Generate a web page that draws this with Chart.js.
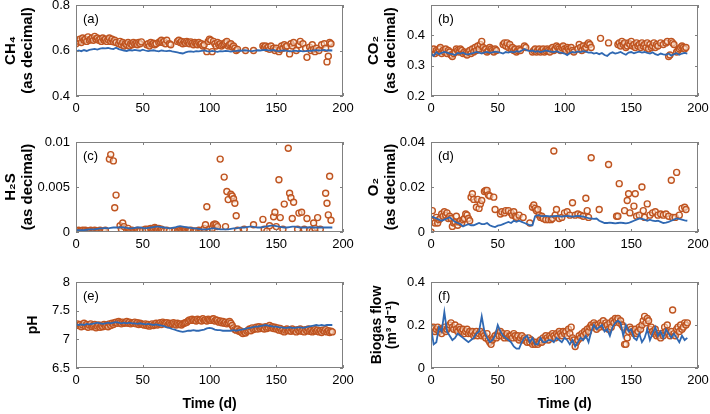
<!DOCTYPE html>
<html>
<head>
<meta charset="utf-8">
<script src="https://cdn.jsdelivr.net/npm/chart.js@4.4.0/dist/chart.umd.min.js"></script>
<style>
html, body { margin: 0; padding: 0; background: #fff; overflow: hidden; }
#wrap { position: relative; width: 710px; height: 414px; overflow: hidden; }
#wrap canvas { position: absolute; }
</style>
</head>
<body>
<div id="wrap"></div>
<script>
'use strict';
//___________TICKS__________________
var xTicks = [0, 50, 100, 150, 200];
var ch4Ticks = [0.4, 0.6, 0.8];
var co2Ticks = [0.2, 0.3, 0.4];
var h2sTicks = [0, 0.005, 0.01];
var o2Ticks = [0, 0.02, 0.04];
var phTicks = [6.5, 7, 7.5, 8];
var flowTicks = [0, 0.2, 0.4];

//___________DAYS__________________
var lineDays = [0,2,4,6,8,10,12,14,16,18,20,22,24,26,28,30,32,34,36,38,40,42,44,46,48,50,52,54,56,58,60,62,64,66,68,70,72,74,76,78,80,82,84,86,88,90,92,94,96,98,100,102,104,106,108,110,112,114,116,118,120,122,124,126,128,130,132,134,136,138,140,142,144,146,148,150,152,154,156,158,160,162,164,166,168,170,172,174,176,178,180,182,184,186,188,190,192];
var dailyDays = [0,1,2,3,4,5,6,7,8,9,10,11,12,13,14,15,16,17,18,19,20,21,22,23,24,25,26,27,28,29,30,31,32,33,34,35,36,37,38,39,40,41,42,43,44,45,46,47,48,49,50,51,52,53,54,55,56,57,58,59,60,61,62,63,64,65,66,67,68,69,70,71,72,73,74,75,76,77,78,79,80,81,82,83,84,85,86,87,88,89,90,91,92,93,94,95,96,97,98,99,100,101,102,103,104,105,106,107,108,109,110,111,112,113,114,115,116,117,118,119,120,121,122,123,124,125,126,127,128,129,130,131,132,133,134,135,136,137,138,139,140,141,142,143,144,145,146,147,148,149,150,151,152,153,154,155,156,157,158,159,160,161,162,163,164,165,166,167,168,169,170,171,172,173,174,175,176,177,178,179,180,181,182,183,184,185,186,187,188,189,190,191,192];

//___________MODEL LINES (every 2 d)__________________
var ch4Model = [0.595,0.600,0.597,0.602,0.598,0.603,
  0.605,0.607,0.604,0.608,0.610,0.609,0.611,0.608,0.606,0.612,
  0.606,0.603,0.600,0.598,0.602,0.600,0.603,0.601,0.599,0.604,
  0.600,0.597,0.599,0.601,0.598,0.596,0.600,0.598,0.597,0.599,
  0.596,0.594,0.592,0.589,0.587,0.592,0.595,0.596,0.594,0.597,
  0.596,0.598,0.600,0.597,0.595,0.598,0.596,0.594,0.597,0.596,
  0.598,0.597,0.595,0.597,0.598,0.600,0.599,0.601,0.600,0.598,
  0.597,0.599,0.601,0.600,0.602,0.603,0.601,0.600,0.602,0.598,
  0.597,0.599,0.600,0.598,0.596,0.597,0.599,0.597,0.598,0.596,
  0.597,0.599,0.598,0.600,0.602,0.600,0.601,0.603,0.600,0.601,
  0.600];
var co2Model = [0.340,0.332,0.345,0.338,0.342,0.345,
  0.343,0.340,0.338,0.335,0.342,0.340,0.343,0.338,0.337,0.340,
  0.342,0.345,0.343,0.340,0.344,0.345,0.342,0.344,0.346,0.345,
  0.343,0.340,0.345,0.343,0.346,0.344,0.348,0.346,0.350,0.355,
  0.350,0.348,0.350,0.346,0.348,0.345,0.347,0.350,0.348,0.346,
  0.345,0.348,0.344,0.342,0.340,0.335,0.342,0.345,0.343,0.347,
  0.345,0.348,0.346,0.343,0.344,0.340,0.342,0.338,0.342,0.335,
  0.332,0.340,0.344,0.340,0.342,0.345,0.340,0.336,0.343,0.345,
  0.341,0.344,0.346,0.343,0.345,0.342,0.340,0.344,0.338,0.335,
  0.340,0.337,0.336,0.340,0.333,0.338,0.341,0.336,0.340,0.342,
  0.340];
var h2sModel = [0.0002,0.0002,0.0002,0.0002,0.00025,0.0003,
  0.0003,0.0003,0.00035,0.0004,0.0004,0.00045,0.0004,0.00045,0.0005,0.0005,
  0.0005,0.00055,0.0005,0.00045,0.0004,0.0004,0.00045,0.0005,0.0005,0.00045,
  0.0004,0.00045,0.0005,0.00055,0.0006,0.0006,0.00055,0.0005,0.00045,0.0004,
  0.00045,0.0005,0.0006,0.00065,0.0006,0.00055,0.0005,0.00045,0.0004,0.0004,
  0.00035,0.0003,0.0003,0.0003,0.00035,0.0004,0.0004,0.00035,0.0003,0.0003,
  0.0003,0.0003,0.00035,0.0004,0.0004,0.00045,0.0005,0.0005,0.00055,0.0006,
  0.0006,0.00055,0.0005,0.0005,0.00055,0.0006,0.00065,0.0007,0.0007,0.00065,
  0.0006,0.00055,0.0005,0.0005,0.00055,0.0006,0.0006,0.00055,0.0005,0.0005,
  0.0005,0.0005,0.00055,0.0005,0.0005,0.0005,0.0005,0.0005,0.0005,0.0005,
  0.0005];
var o2Model = [0.0070,0.0065,0.0060,0.0055,0.0050,0.0055,
  0.0060,0.0065,0.0055,0.0045,0.0040,0.0035,0.0025,0.0030,0.0035,0.0030,
  0.0030,0.0035,0.0040,0.0035,0.0035,0.0040,0.0030,0.0025,0.0022,0.0028,
  0.0030,0.0035,0.0040,0.0045,0.0040,0.0050,0.0045,0.0050,0.0045,0.0040,
  0.0035,0.0030,0.0030,0.0070,0.0075,0.0072,0.0070,0.0072,0.0070,0.0068,
  0.0070,0.0072,0.0070,0.0068,0.0070,0.0072,0.0070,0.0068,0.0070,0.0072,
  0.0070,0.0068,0.0065,0.0062,0.0060,0.0058,0.0060,0.0050,0.0045,0.0040,
  0.0040,0.0042,0.0040,0.0038,0.0040,0.0042,0.0040,0.0038,0.0040,0.0045,
  0.0050,0.0055,0.0060,0.0058,0.0055,0.0050,0.0055,0.0050,0.0048,0.0050,
  0.0045,0.0040,0.0042,0.0045,0.0050,0.0055,0.0060,0.0058,0.0055,0.0052,
  0.0050];
var phModel = [7.26,7.25,7.26,7.25,7.27,7.26,
  7.27,7.28,7.29,7.28,7.27,7.28,7.29,7.28,7.29,7.30,
  7.29,7.28,7.29,7.28,7.29,7.28,7.28,7.27,7.28,7.27,
  7.26,7.27,7.26,7.25,7.26,7.25,7.24,7.23,7.21,7.20,
  7.18,7.17,7.15,7.14,7.13,7.14,7.15,7.15,7.16,7.15,
  7.15,7.16,7.17,7.19,7.20,7.19,7.17,7.16,7.16,7.15,
  7.15,7.15,7.15,7.16,7.15,7.16,7.17,7.18,7.19,7.20,
  7.21,7.22,7.22,7.23,7.24,7.25,7.24,7.23,7.22,7.22,
  7.21,7.21,7.20,7.20,7.21,7.20,7.20,7.21,7.21,7.20,
  7.21,7.22,7.23,7.24,7.25,7.24,7.25,7.24,7.25,7.25,
  7.25];
var flowModel = [0.19,0.11,0.12,0.19,0.17,0.26,
  0.17,0.15,0.13,0.14,0.16,0.15,0.14,0.13,0.12,0.13,
  0.14,0.16,0.17,0.24,0.17,0.14,0.12,0.13,0.15,0.20,
  0.17,0.15,0.14,0.13,0.12,0.10,0.09,0.09,0.12,0.14,
  0.15,0.12,0.14,0.11,0.11,0.14,0.12,0.12,0.13,0.13,
  0.12,0.14,0.13,0.12,0.14,0.13,0.11,0.13,0.10,0.12,
  0.14,0.13,0.15,0.12,0.17,0.20,0.18,0.19,0.20,0.17,
  0.18,0.15,0.19,0.21,0.22,0.21,0.15,0.20,0.17,0.18,
  0.14,0.13,0.16,0.12,0.14,0.18,0.13,0.16,0.19,0.15,
  0.17,0.14,0.18,0.16,0.14,0.16,0.14,0.12,0.15,0.13,
  0.14];

//___________MEASURED POINTS [day, value]__________________
var ch4Measured = [[0,.630],[1,.645],[2,.640],[3,.650],[4,.635],[5,.655],[6,.645],[7,.650],[8,.640],[9,.660],[10,.645],[11,.650],[12,.655],[13,.645],[14,.662],[15,.650],[16,.655],[17,.645],[18,.650],[19,.640],[20,.655],[21,.645],[22,.650],[23,.640],[24,.648],[25,.655],[26,.640],[27,.650],[28,.638],[29,.645],[30,.635],
  [32,.630],[33,.640],[34,.625],[35,.635],[36,.620],[37,.630],[38,.625],[39,.635],[40,.620],[41,.630],[42,.625],[43,.635],[44,.628],[45,.632],[46,.625],[47,.635],[48,.630],[49,.638],
  [53,.625],[54,.630],[55,.620],[56,.635],[57,.628],[58,.632],[59,.625],[60,.630],[62,.635],[63,.640],[64,.645],[65,.635],[66,.640],[67,.630],[68,.645],[70,.630],[71,.625],
  [76,.640],[77,.645],[78,.635],[79,.640],[80,.630],[81,.638],[82,.632],[83,.640],[84,.635],[85,.630],[86,.638],[87,.632],[88,.625],[89,.635],[90,.630],[91,.625],[92,.635],[93,.628],[94,.630],[95,.620],[96,.625],
  [98,.595],[99,.640],[100,.650],[101,.645],[102,.595],[103,.640],[104,.630],[105,.620],[106,.635],[107,.625],[108,.630],[109,.620],[110,.625],[111,.630],[112,.635],[113,.640],[114,.620],[115,.625],[116,.630],[117,.615],[118,.620],[119,.610],[120,.600],[121,.605],
  [127,.600],[133,.600],
  [140,.620],[141,.615],[142,.620],[143,.610],[144,.615],[145,.605],[146,.620],[148,.610],[149,.600],[150,.610],[152,.595],[153,.605],[154,.620],[155,.610],[156,.625],[157,.615],[158,.620],[160,.585],[161,.630],[162,.620],[163,.635],[165,.600],[167,.625],[168,.640],[170,.630],[172,.610],[173,.570],[175,.615],[176,.600],[177,.625],[178,.605],[179,.595],[180,.610],[182,.600],[184,.625],[186,.630],[187,.610],[188,.550],[189,.575],[190,.635],[191,.630]];

var co2Measured = [[0,.350],[1,.345],[2,.355],[3,.340],[4,.350],[5,.345],[6,.355],[7,.360],[8,.340],[9,.350],
  [10,.345],[11,.355],[12,.340],[13,.350],[14,.345],[15,.335],[16,.330],[17,.340],[18,.345],[19,.355],
  [20,.350],[21,.345],[22,.355],[23,.350],[24,.340],[25,.345],[26,.340],[27,.335],[28,.345],[29,.350],
  [30,.340],[31,.355],[32,.345],[33,.360],[34,.350],[35,.365],[36,.355],[37,.370],[38,.380],[39,.360],
  [40,.350],[41,.355],[42,.345],[43,.350],[44,.360],[45,.355],[46,.350],[47,.345],[48,.355],[49,.350],
  [54,.370],[55,.375],[56,.365],[57,.375],[58,.360],[59,.370],[60,.355],[61,.360],[62,.350],[63,.355],[64,.345],[65,.350],[66,.355],[67,.350],
  [70,.365],[71,.360],
  [76,.345],[77,.350],[78,.355],[79,.345],[80,.350],[81,.355],[82,.345],[83,.350],[84,.355],[85,.345],
  [86,.350],[87,.355],[88,.350],[89,.345],[90,.355],[91,.360],[92,.350],[93,.355],[94,.365],[95,.360],
  [96,.355],[97,.350],[98,.360],[99,.365],[100,.355],[101,.350],[102,.360],[103,.355],[104,.350],[105,.360],[106,.350],[107,.345],
  [110,.355],[111,.370],[112,.360],[113,.350],[114,.365],[115,.355],[116,.360],[117,.370],[118,.375],[119,.370],[120,.360],
  [127,.390],[133,.375],
  [140,.370],[141,.375],[142,.365],[143,.380],[144,.370],[145,.375],[146,.360],[147,.365],[148,.375],[149,.370],
  [150,.380],[151,.365],[152,.370],[153,.360],[154,.375],[155,.365],[156,.370],[157,.360],[158,.375],[159,.365],
  [160,.370],[161,.360],[162,.375],[163,.355],[164,.370],[165,.360],[166,.365],[167,.375],[168,.360],[169,.370],[170,.365],
  [172,.375],[174,.370],[176,.375],[177,.380],[178,.330],[179,.335],[180,.380],[181,.375],[182,.370],
  [184,.345],[185,.350],[186,.355],[187,.360],[188,.365],[189,.360],[190,.355],[191,.360]];

var h2sMeasured = [[1,.0001],[2,.0002],[3,.0001],[4,.0001],[5,.0002],[6,.0001],[7,.0002],[8,.0001],[9,.0001],[10,.0001],[11,.0002],[12,.0001],[13,.0001],[14,.0002],[15,.0001],[16,.0001],[17,.0001],[18,.0002],[19,.0001],[20,.0001],[21,.0001],[22,.0002],
  [25,.0081],[26,.0086],[28,.0079],[29,.0027],[30,.0041],[33,.0007],[34,.0003],[35,.0010],[36,.0006],[38,.0001],[39,.0004],[40,.0001],[41,.0001],[42,.0002],[43,.0001],[44,.0001],[45,.0001],[46,.0002],[47,.0001],[48,.0001],[50,.0002],[52,.0003],[54,.0003],[56,.0004],[57,.0003],[58,.0004],[59,.0005],[60,.0004],[61,.0003],[62,.0004],[63,.0002],[64,.0003],[65,.0002],[66,.0001],[68,.0002],[70,.0001],
  [74,.0001],[76,.0001],[77,.0001],[78,.0002],[79,.0001],[80,.0001],[81,.0001],[82,.0002],[83,.0001],[84,.0001],[85,.0001],[86,.0002],[88,.0001],[89,.0001],[90,.0001],[92,.0002],[93,.0001],[94,.0001],[95,.0002],[96,.0004],[97,.0008],[98,.0028],
  [100,.0003],[102,.0004],[103,.0008],[104,.0009],[105,.0008],[106,.0006],[108,.0081],[111,.0061],[112,.0006],[113,.0045],[114,.0036],[116,.0042],[117,.0040],[118,.0037],[119,.0032],[120,.0018],[121,.0002],
  [126,.0003],[133,.0008],
  [140,.0014],[141,.0003],[143,.0001],[145,.0007],[148,.0017],[149,.0022],[150,.0006],[152,.0058],[153,.0016],[155,.0003],[156,.0031],[159,.0093],[160,.0043],[161,.0038],[162,.0015],[163,.0033],[166,.0003],[167,.0021],[169,.0022],[171,.0003],[173,.0015],[175,.0002],[177,.0001],[178,.0010],[179,.0004],[181,.0016],[183,.0003],[187,.0043],[188,.0032],[189,.0019],[190,.0062],[191,.0013]];

var o2Measured = [[0,.0000],[1,.0095],[2,.0050],[3,.0040],[4,.0065],[5,.0040],[6,.0055],[7,.0060],[8,.0080],[9,.0070],[10,.0090],[11,.0075],[12,.0085],[13,.0060],[14,.0070],[15,.0060],[16,.0025],[17,.0040],[18,.0045],[19,.0070],[20,.0030],[21,.0045],[22,.0050],[23,.0040],[24,.0055],[25,.0060],[26,.0080],[27,.0075],[28,.0060],[29,.0050],
  [30,.0155],[31,.0170],[32,.0145],[34,.0110],[35,.0145],[36,.0105],[37,.0125],[38,.0140],[40,.0180],[41,.0185],[42,.0185],[43,.0165],[44,.0160],[47,.0155],[48,.0100],
  [52,.0080],[53,.0090],[55,.0085],[56,.0095],[58,.0095],[60,.0085],[61,.0075],[62,.0090],[63,.0070],[64,.0065],[66,.0075],[69,.0065],[74,.0040],
  [76,.0110],[77,.0120],[78,.0105],[79,.0095],[80,.0100],[81,.0075],[82,.0065],[83,.0070],[84,.0060],[86,.0055],[88,.0055],[90,.0055],[91,.0060],[92,.0360],[93,.0075],[94,.0100],[96,.0060],[98,.0065],
  [100,.0085],[102,.0090],[104,.0075],[106,.0130],[108,.0075],[110,.0080],[112,.0075],[114,.0070],[116,.0150],[117,.0095],[118,.0065],[120,.0330],[126,.0100],[133,.0300],
  [139,.0070],[140,.0070],[141,.0215],[145,.0095],[147,.0140],[148,.0170],[149,.0085],[152,.0115],[153,.0170],[154,.0070],[156,.0075],[158,.0200],[159,.0095],[160,.0065],[162,.0125],[164,.0075],[166,.0085],[168,.0090],[170,.0075],[172,.0080],[174,.0075],[176,.0080],[178,.0070],[180,.0230],[181,.0065],[183,.0065],[184,.0265],[186,.0075],[188,.0105],[190,.0110],[191,.0100]];

var phMeasured = [7.25,7.27,7.24,7.26,7.22,7.25,7.28,7.23,7.26,7.21,
  7.25,7.27,7.22,7.24,7.26,7.20,7.23,7.25,7.21,7.24,
  7.22,7.26,7.23,7.25,7.22,7.27,7.24,7.28,7.26,7.29,
  7.30,7.28,7.31,7.29,7.27,7.30,7.28,7.29,7.31,7.28,
  7.30,7.27,7.29,7.28,7.30,7.27,7.29,7.26,7.28,7.27,
  7.26,7.25,7.27,7.24,7.26,7.23,7.25,7.27,7.24,7.26,
  7.28,7.25,7.27,7.29,7.26,7.30,7.28,7.27,7.29,7.26,
  7.28,7.26,7.27,7.29,7.27,7.25,7.28,7.26,7.27,7.25,
  7.27,7.28,7.29,7.30,7.32,7.34,7.33,7.35,7.33,7.34,
  7.32,7.35,7.33,7.34,7.32,7.36,7.33,7.34,7.32,7.35,
  7.34,7.33,7.35,7.36,7.32,7.34,7.33,7.30,7.32,7.29,
  7.31,7.28,7.30,7.27,7.29,7.31,7.28,7.24,7.20,7.17,
  7.16,7.18,7.14,7.15,7.12,7.10,7.13,7.11,7.14,7.16,
  7.18,7.15,7.20,7.17,7.19,7.21,7.18,7.22,7.19,7.21,
  7.20,7.18,7.22,7.19,7.21,7.24,7.20,7.22,7.19,7.21,
  7.18,7.20,7.16,7.19,7.15,7.17,7.13,7.16,7.18,7.15,
  7.17,7.14,7.18,7.15,7.16,7.13,7.17,7.15,7.18,7.14,
  7.16,7.13,7.17,7.15,7.18,7.14,7.16,7.13,7.15,7.17,
  7.14,7.16,7.13,7.15,7.12,7.16,7.14,7.17,7.13,7.15,
  7.12,7.14,7.13];

var flowMeasured = [0.19,0.18,0.19,0.17,0.18,0.19,0.17,0.18,0.16,0.18,
  0.19,0.17,0.18,0.19,0.20,0.21,0.19,0.18,0.20,0.18,
  0.17,0.19,0.18,0.17,0.18,0.16,0.17,0.18,0.16,0.17,
  0.16,0.17,0.15,0.16,0.17,0.15,0.16,0.17,0.15,0.16,
  0.15,0.14,0.16,0.13,0.12,0.11,0.13,0.14,0.15,0.14,
  0.16,0.15,0.17,0.15,0.16,0.14,0.15,0.16,0.14,0.15,
  0.15,0.14,0.16,0.15,0.14,0.15,0.13,0.14,0.15,0.13,
  0.14,0.13,0.12,0.14,0.12,0.13,0.11,0.12,0.11,0.12,
  0.11,0.12,0.13,0.12,0.14,0.13,0.15,0.14,0.13,0.15,
  0.14,0.16,0.15,0.14,0.16,0.15,0.17,0.16,0.15,0.17,
  0.16,0.17,0.15,0.18,0.16,0.19,0.14,0.13,0.10,0.12,
  0.13,0.15,0.14,0.16,0.15,0.17,0.16,0.18,0.17,0.19,
  0.20,0.19,0.21,0.20,0.18,0.20,0.19,0.21,0.20,0.22,
  0.19,0.21,0.20,0.18,0.21,0.19,0.22,0.21,0.23,0.22,
  0.23,0.21,0.22,0.20,0.19,0.11,0.11,0.14,0.17,0.19,
  0.18,0.17,0.16,0.18,0.16,0.17,0.19,0.18,0.20,0.22,
  0.24,0.21,0.23,0.22,0.18,0.19,0.17,0.16,0.18,0.15,
  0.16,0.15,0.14,0.16,0.15,0.19,0.17,0.20,0.16,0.15,
  0.17,0.27,0.16,0.15,0.18,0.19,0.17,0.20,0.18,0.19,
  0.21,0.20,0.21];

//___________LAYOUT__________________
var colLeft = [0, 355];
var rows = [
  {top: 5, bottom: 96, xh: 40},
  {top: 142, bottom: 232, xh: 40},
  {top: 282, bottom: 368, xh: 46}
];

Chart.defaults.font.family = '"Liberation Sans", Arial, sans-serif';
Chart.defaults.font.size = 13;
Chart.defaults.color = '#000';

// box round the plot + inward ticks + panel letter
var panelBox = {
  id: 'panelBox',
  afterDraw: function(chart, args, opts) {
    var a = chart.chartArea, ctx = chart.ctx;
    var sx = chart.scales.x, sy = chart.scales.y;
    ctx.save();
    ctx.strokeStyle = '#808080';
    ctx.lineWidth = 1;
    ctx.strokeRect(a.left + 0.5, a.top + 0.5, a.right - a.left - 1, a.bottom - a.top - 1);
    ctx.beginPath();
    sx.ticks.forEach(function(t) {
      var px = Math.round(sx.getPixelForValue(t.value)) + 0.5;
      ctx.moveTo(px, a.bottom); ctx.lineTo(px, a.bottom - 3);
      ctx.moveTo(px, a.top); ctx.lineTo(px, a.top + 3);
    });
    sy.ticks.forEach(function(t) {
      var py = Math.round(sy.getPixelForValue(t.value)) + 0.5;
      ctx.moveTo(a.left, py); ctx.lineTo(a.left + 3, py);
      ctx.moveTo(a.right, py); ctx.lineTo(a.right - 3, py);
    });
    ctx.stroke();
    ctx.fillStyle = '#000';
    ctx.font = '13px "Liberation Sans", Arial, sans-serif';
    ctx.textBaseline = 'middle';
    ctx.textAlign = 'left';
    ctx.fillText(opts.label, a.left + 7, a.top + 14);
    ctx.restore();
  }
};

function toXY(days, vals) {
  return days.map(function(d, i) { return {x: d, y: vals[i]}; });
}
function pairsXY(p) {
  return p.map(function(q) { return {x: q[0], y: q[1]}; });
}

function makePanel(p) {
  var r = rows[p.row];
  var cv = document.createElement('canvas');
  var h = 14 + (r.bottom - r.top) + r.xh;
  cv.width = 360;
  cv.height = h;
  cv.style.width = '360px';
  cv.style.height = h + 'px';
  cv.style.left = colLeft[p.col] + 'px';
  cv.style.top = (r.top - 14) + 'px';
  document.getElementById('wrap').appendChild(cv);

  new Chart(cv, {
    type: 'scatter',
    data: {
      datasets: [
        {
          data: toXY(lineDays, p.model),
          showLine: true,
          borderColor: '#2f68b2',
          borderWidth: 1.8,
          pointRadius: 0,
          tension: 0
        },
        {
          data: p.measured,
          showLine: false,
          pointRadius: 3,
          pointBorderWidth: 1.4,
          pointBorderColor: '#bf5420',
          pointBackgroundColor: 'rgba(255,236,222,0.55)'
        }
      ]
    },
    options: {
      responsive: false,
      animation: false,
      events: [],
      layout: {padding: {top: 14, right: 17, left: 0, bottom: 0}},
      plugins: {
        legend: {display: false},
        tooltip: {enabled: false},
        panelBox: {label: p.label}
      },
      scales: {
        x: {
          type: 'linear', min: 0, max: 200,
          grid: {display: false, drawTicks: false},
          border: {display: false},
          afterBuildTicks: function(s) { s.ticks = xTicks.map(function(v) { return {value: v}; }); },
          afterFit: function(s) { s.height = r.xh; },
          ticks: {padding: 5, maxRotation: 0, callback: function(v) { return String(v); }},
          title: {display: p.row === 2, text: 'Time (d)', font: {size: 14, weight: 'bold'}, padding: {top: 0, bottom: 1}}
        },
        y: {
          type: 'linear', min: p.ymin, max: p.ymax,
          grid: {display: false, drawTicks: false},
          border: {display: false},
          afterBuildTicks: function(s) { s.ticks = p.ticks.map(function(v) { return {value: v}; }); },
          afterFit: function(s) { s.width = 76; },
          ticks: {padding: 6, callback: function(v) { return String(v); }},
          title: {display: true, text: p.title, font: {size: p.tsize, weight: 'bold', lineHeight: p.tlh}, padding: {top: p.tpad, bottom: 0}}
        }
      }
    },
    plugins: [panelBox]
  });
}

makePanel({row: 0, col: 0, label: '(a)', title: ['CH\u2084', '(as decimal)'], tsize: 15, tpad: 2, tlh: 1.15, ymin: 0.4, ymax: 0.8, ticks: ch4Ticks, model: ch4Model, measured: pairsXY(ch4Measured)});
makePanel({row: 0, col: 1, label: '(b)', title: ['CO\u2082', '(as decimal)'], tsize: 15, tpad: 10, tlh: 1.15, ymin: 0.2, ymax: 0.5, ticks: co2Ticks, model: co2Model, measured: pairsXY(co2Measured)});
makePanel({row: 1, col: 0, label: '(c)', title: ['H\u2082S', '(as decimal)'], tsize: 15, tpad: 2, tlh: 1.15, ymin: 0, ymax: 0.01, ticks: h2sTicks, model: h2sModel, measured: pairsXY(h2sMeasured)});
makePanel({row: 1, col: 1, label: '(d)', title: ['O\u2082', '(as decimal)'], tsize: 15, tpad: 10, tlh: 1.15, ymin: 0, ymax: 0.04, ticks: o2Ticks, model: o2Model, measured: pairsXY(o2Measured)});
makePanel({row: 2, col: 0, label: '(e)', title: 'pH', tsize: 14, tpad: 25, tlh: 1.2, ymin: 6.5, ymax: 8, ticks: phTicks, model: phModel, measured: toXY(dailyDays, phMeasured)});
makePanel({row: 2, col: 1, label: '(f)', title: ['Biogas flow', '(m\u00b3 d\u207b\u00b9)'], tsize: 14, tpad: 14, tlh: 1.1, ymin: 0, ymax: 0.4, ticks: flowTicks, model: flowModel, measured: toXY(dailyDays, flowMeasured)});
</script>
</body>
</html>
